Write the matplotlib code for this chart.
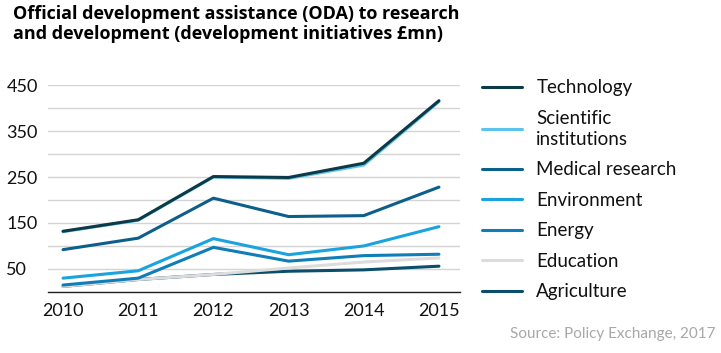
import numpy as np
import matplotlib
matplotlib.use("Agg")
import matplotlib.pyplot as plt
from matplotlib.ticker import MultipleLocator

# --- Data (development initiatives, £mn) ---
years = [2010, 2011, 2012, 2013, 2014, 2015]
technology = [132, 157, 251, 249, 280, 416]
scientific = [131, 156, 250, 247, 276, 414]
medical = [92, 117, 204, 164, 166, 228]
environment = [30, 46, 116, 81, 100, 142]
energy = [15, 30, 97, 67, 79, 82]
education = [12, 27, 38, 52, 65, 74]
agriculture = [12, 27, 38, 45, 48, 56]

series_names = ["Technology", "Scientific\ninstitutions", "Medical research",
                "Environment", "Energy", "Education", "Agriculture"]
series_values = [technology, scientific, medical, environment, energy, education, agriculture]
colors = ["#0c3a47", "#5cc3ec", "#0d5f8b", "#1aa3de", "#0f7db8", "#dcdcdc", "#0b4e6b"]

y_ticks = [50, 150, 250, 350, 450]

plt.rcParams['font.family'] = ['Lato', 'DejaVu Sans']

fig = plt.figure(figsize=(7.21, 3.53), dpi=100)
ax = fig.add_axes([0.0666, 0.173, 0.5714, 0.586])

# draw back to front so Technology sits on top
for name, vals, c in reversed(list(zip(series_names, series_values, colors))):
    ax.plot(years, vals, color=c, lw=2.2, label=name, solid_capstyle='round')

ax.set_xlim(2009.8, 2015.28)
ax.set_ylim(0, 450)
ax.set_xticks(years)
ax.set_yticks(y_ticks)
ax.yaxis.set_minor_locator(MultipleLocator(50))
ax.grid(axis='y', which='both', color='#d4d4d4', lw=1.0)
ax.set_axisbelow(True)
for s in ['top', 'right', 'left']:
    ax.spines[s].set_visible(False)
ax.spines['bottom'].set_color('#222222')
ax.spines['bottom'].set_linewidth(1.0)
ax.tick_params(axis='both', which='both', length=0, labelsize=13, colors='#111111')
for lab in ax.get_yticklabels():
    lab.set_horizontalalignment('left')
ax.tick_params(axis='y', pad=30)
ax.tick_params(axis='x', pad=8)

# legend in original order
handles, labels = ax.get_legend_handles_labels()
handles, labels = handles[::-1], labels[::-1]
leg = fig.legend(handles, labels, loc='upper left', bbox_to_anchor=(0.6685, 0.776),
                 frameon=False, fontsize=13.5, handlelength=2.15, handletextpad=0.75,
                 labelspacing=0.72, borderpad=0, borderaxespad=0)
for t in leg.get_texts():
    t.set_color('#111111')
    t.set_linespacing(1.3)

fig.text(0.018, 0.985, "Official development assistance (ODA) to research\n"
         "and development (development initiatives £mn)",
         fontsize=13, fontweight='bold', family=['Open Sans', 'DejaVu Sans'],
         va='top', ha='left', linespacing=1.15)
fig.text(0.993, 0.035, "Source: Policy Exchange, 2017", fontsize=11, color='#a8a8a8',
         ha='right', va='bottom')

fig.savefig("out.png", dpi=100)
